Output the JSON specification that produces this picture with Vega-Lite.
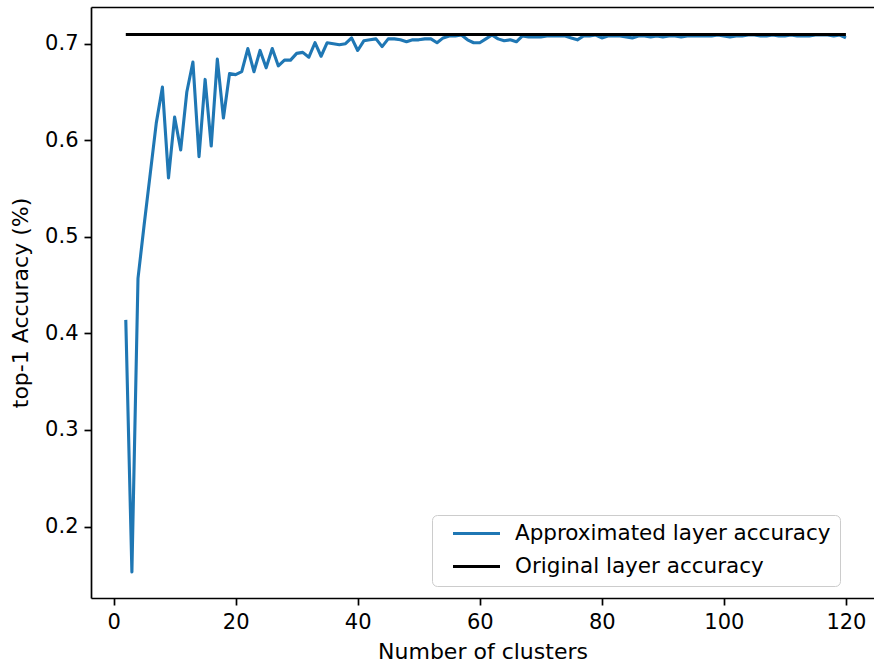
{
  "$schema": "https://vega.github.io/schema/vega-lite/v6.json",
  "width": 783,
  "height": 591,
  "autosize": {"type": "none"},
  "padding": {"left": 91, "top": 7, "right": 0, "bottom": 65},
  "config": {
    "view": {"stroke": null},
    "font": "DejaVu Sans",
    "axis": {
      "domainColor": "#000000",
      "domainWidth": 1.7,
      "tickColor": "#000000",
      "tickWidth": 1.7,
      "tickSize": 7,
      "labelColor": "#000000",
      "labelFontSize": 21,
      "labelPadding": 6,
      "titleColor": "#000000",
      "titleFontSize": 22,
      "titleFontWeight": "normal",
      "grid": false
    }
  },
  "datasets": {
    "approx": [
      {"k": 2, "acc": 0.414, "series": "Approximated layer accuracy"},
      {"k": 3, "acc": 0.153, "series": "Approximated layer accuracy"},
      {"k": 4, "acc": 0.457, "series": "Approximated layer accuracy"},
      {"k": 5, "acc": 0.512, "series": "Approximated layer accuracy"},
      {"k": 6, "acc": 0.565, "series": "Approximated layer accuracy"},
      {"k": 7, "acc": 0.618, "series": "Approximated layer accuracy"},
      {"k": 8, "acc": 0.655, "series": "Approximated layer accuracy"},
      {"k": 9, "acc": 0.561, "series": "Approximated layer accuracy"},
      {"k": 10, "acc": 0.624, "series": "Approximated layer accuracy"},
      {"k": 11, "acc": 0.590, "series": "Approximated layer accuracy"},
      {"k": 12, "acc": 0.650, "series": "Approximated layer accuracy"},
      {"k": 13, "acc": 0.681, "series": "Approximated layer accuracy"},
      {"k": 14, "acc": 0.583, "series": "Approximated layer accuracy"},
      {"k": 15, "acc": 0.663, "series": "Approximated layer accuracy"},
      {"k": 16, "acc": 0.594, "series": "Approximated layer accuracy"},
      {"k": 17, "acc": 0.684, "series": "Approximated layer accuracy"},
      {"k": 18, "acc": 0.623, "series": "Approximated layer accuracy"},
      {"k": 19, "acc": 0.669, "series": "Approximated layer accuracy"},
      {"k": 20, "acc": 0.668, "series": "Approximated layer accuracy"},
      {"k": 21, "acc": 0.671, "series": "Approximated layer accuracy"},
      {"k": 22, "acc": 0.695, "series": "Approximated layer accuracy"},
      {"k": 23, "acc": 0.671, "series": "Approximated layer accuracy"},
      {"k": 24, "acc": 0.693, "series": "Approximated layer accuracy"},
      {"k": 25, "acc": 0.675, "series": "Approximated layer accuracy"},
      {"k": 26, "acc": 0.695, "series": "Approximated layer accuracy"},
      {"k": 27, "acc": 0.677, "series": "Approximated layer accuracy"},
      {"k": 28, "acc": 0.683, "series": "Approximated layer accuracy"},
      {"k": 29, "acc": 0.683, "series": "Approximated layer accuracy"},
      {"k": 30, "acc": 0.690, "series": "Approximated layer accuracy"},
      {"k": 31, "acc": 0.691, "series": "Approximated layer accuracy"},
      {"k": 32, "acc": 0.686, "series": "Approximated layer accuracy"},
      {"k": 33, "acc": 0.701, "series": "Approximated layer accuracy"},
      {"k": 34, "acc": 0.687, "series": "Approximated layer accuracy"},
      {"k": 35, "acc": 0.701, "series": "Approximated layer accuracy"},
      {"k": 36, "acc": 0.700, "series": "Approximated layer accuracy"},
      {"k": 37, "acc": 0.699, "series": "Approximated layer accuracy"},
      {"k": 38, "acc": 0.700, "series": "Approximated layer accuracy"},
      {"k": 39, "acc": 0.706, "series": "Approximated layer accuracy"},
      {"k": 40, "acc": 0.693, "series": "Approximated layer accuracy"},
      {"k": 41, "acc": 0.703, "series": "Approximated layer accuracy"},
      {"k": 42, "acc": 0.704, "series": "Approximated layer accuracy"},
      {"k": 43, "acc": 0.705, "series": "Approximated layer accuracy"},
      {"k": 44, "acc": 0.697, "series": "Approximated layer accuracy"},
      {"k": 45, "acc": 0.705, "series": "Approximated layer accuracy"},
      {"k": 46, "acc": 0.705, "series": "Approximated layer accuracy"},
      {"k": 47, "acc": 0.704, "series": "Approximated layer accuracy"},
      {"k": 48, "acc": 0.702, "series": "Approximated layer accuracy"},
      {"k": 49, "acc": 0.704, "series": "Approximated layer accuracy"},
      {"k": 50, "acc": 0.704, "series": "Approximated layer accuracy"},
      {"k": 51, "acc": 0.705, "series": "Approximated layer accuracy"},
      {"k": 52, "acc": 0.705, "series": "Approximated layer accuracy"},
      {"k": 53, "acc": 0.701, "series": "Approximated layer accuracy"},
      {"k": 54, "acc": 0.706, "series": "Approximated layer accuracy"},
      {"k": 55, "acc": 0.708, "series": "Approximated layer accuracy"},
      {"k": 56, "acc": 0.708, "series": "Approximated layer accuracy"},
      {"k": 57, "acc": 0.709, "series": "Approximated layer accuracy"},
      {"k": 58, "acc": 0.704, "series": "Approximated layer accuracy"},
      {"k": 59, "acc": 0.701, "series": "Approximated layer accuracy"},
      {"k": 60, "acc": 0.701, "series": "Approximated layer accuracy"},
      {"k": 61, "acc": 0.705, "series": "Approximated layer accuracy"},
      {"k": 62, "acc": 0.709, "series": "Approximated layer accuracy"},
      {"k": 63, "acc": 0.705, "series": "Approximated layer accuracy"},
      {"k": 64, "acc": 0.703, "series": "Approximated layer accuracy"},
      {"k": 65, "acc": 0.704, "series": "Approximated layer accuracy"},
      {"k": 66, "acc": 0.702, "series": "Approximated layer accuracy"},
      {"k": 67, "acc": 0.708, "series": "Approximated layer accuracy"},
      {"k": 68, "acc": 0.707, "series": "Approximated layer accuracy"},
      {"k": 69, "acc": 0.707, "series": "Approximated layer accuracy"},
      {"k": 70, "acc": 0.707, "series": "Approximated layer accuracy"},
      {"k": 71, "acc": 0.708, "series": "Approximated layer accuracy"},
      {"k": 72, "acc": 0.708, "series": "Approximated layer accuracy"},
      {"k": 73, "acc": 0.708, "series": "Approximated layer accuracy"},
      {"k": 74, "acc": 0.708, "series": "Approximated layer accuracy"},
      {"k": 75, "acc": 0.706, "series": "Approximated layer accuracy"},
      {"k": 76, "acc": 0.704, "series": "Approximated layer accuracy"},
      {"k": 77, "acc": 0.708, "series": "Approximated layer accuracy"},
      {"k": 78, "acc": 0.708, "series": "Approximated layer accuracy"},
      {"k": 79, "acc": 0.709, "series": "Approximated layer accuracy"},
      {"k": 80, "acc": 0.706, "series": "Approximated layer accuracy"},
      {"k": 81, "acc": 0.708, "series": "Approximated layer accuracy"},
      {"k": 82, "acc": 0.708, "series": "Approximated layer accuracy"},
      {"k": 83, "acc": 0.708, "series": "Approximated layer accuracy"},
      {"k": 84, "acc": 0.707, "series": "Approximated layer accuracy"},
      {"k": 85, "acc": 0.706, "series": "Approximated layer accuracy"},
      {"k": 86, "acc": 0.708, "series": "Approximated layer accuracy"},
      {"k": 87, "acc": 0.708, "series": "Approximated layer accuracy"},
      {"k": 88, "acc": 0.707, "series": "Approximated layer accuracy"},
      {"k": 89, "acc": 0.708, "series": "Approximated layer accuracy"},
      {"k": 90, "acc": 0.707, "series": "Approximated layer accuracy"},
      {"k": 91, "acc": 0.708, "series": "Approximated layer accuracy"},
      {"k": 92, "acc": 0.708, "series": "Approximated layer accuracy"},
      {"k": 93, "acc": 0.707, "series": "Approximated layer accuracy"},
      {"k": 94, "acc": 0.708, "series": "Approximated layer accuracy"},
      {"k": 95, "acc": 0.708, "series": "Approximated layer accuracy"},
      {"k": 96, "acc": 0.708, "series": "Approximated layer accuracy"},
      {"k": 97, "acc": 0.708, "series": "Approximated layer accuracy"},
      {"k": 98, "acc": 0.708, "series": "Approximated layer accuracy"},
      {"k": 99, "acc": 0.709, "series": "Approximated layer accuracy"},
      {"k": 100, "acc": 0.708, "series": "Approximated layer accuracy"},
      {"k": 101, "acc": 0.707, "series": "Approximated layer accuracy"},
      {"k": 102, "acc": 0.708, "series": "Approximated layer accuracy"},
      {"k": 103, "acc": 0.708, "series": "Approximated layer accuracy"},
      {"k": 104, "acc": 0.709, "series": "Approximated layer accuracy"},
      {"k": 105, "acc": 0.709, "series": "Approximated layer accuracy"},
      {"k": 106, "acc": 0.708, "series": "Approximated layer accuracy"},
      {"k": 107, "acc": 0.708, "series": "Approximated layer accuracy"},
      {"k": 108, "acc": 0.709, "series": "Approximated layer accuracy"},
      {"k": 109, "acc": 0.708, "series": "Approximated layer accuracy"},
      {"k": 110, "acc": 0.708, "series": "Approximated layer accuracy"},
      {"k": 111, "acc": 0.709, "series": "Approximated layer accuracy"},
      {"k": 112, "acc": 0.708, "series": "Approximated layer accuracy"},
      {"k": 113, "acc": 0.708, "series": "Approximated layer accuracy"},
      {"k": 114, "acc": 0.708, "series": "Approximated layer accuracy"},
      {"k": 115, "acc": 0.709, "series": "Approximated layer accuracy"},
      {"k": 116, "acc": 0.709, "series": "Approximated layer accuracy"},
      {"k": 117, "acc": 0.709, "series": "Approximated layer accuracy"},
      {"k": 118, "acc": 0.708, "series": "Approximated layer accuracy"},
      {"k": 119, "acc": 0.709, "series": "Approximated layer accuracy"},
      {"k": 120, "acc": 0.706, "series": "Approximated layer accuracy"}
    ],
    "orig": [
      {"k": 2, "acc": 0.7095, "series": "Original layer accuracy"},
      {"k": 120, "acc": 0.7095, "series": "Original layer accuracy"}
    ]
  },
  "layer": [
    {
      "data": {"name": "approx"},
      "mark": {"type": "line", "strokeWidth": 3.1, "strokeJoin": "round", "clip": true},
      "encoding": {
        "x": {
          "field": "k",
          "type": "quantitative",
          "scale": {"domain": [-3.7, 124.6], "nice": false, "zero": false},
          "axis": {"values": [0, 20, 40, 60, 80, 100, 120], "title": "Number of clusters", "titlePadding": 9}
        },
        "y": {
          "field": "acc",
          "type": "quantitative",
          "scale": {"domain": [0.126, 0.738], "nice": false, "zero": false},
          "axis": {"values": [0.2, 0.3, 0.4, 0.5, 0.6, 0.7], "format": ".1f", "title": "top-1 Accuracy (%)", "titlePadding": 12}
        },
        "color": {
          "field": "series",
          "type": "nominal",
          "scale": {
            "domain": ["Approximated layer accuracy", "Original layer accuracy"],
            "range": ["#1f77b4", "#000000"]
          },
          "legend": {
            "title": null,
            "orient": "none",
            "legendX": 341,
            "legendY": 508,
            "symbolType": "stroke",
            "symbolSize": 2209,
            "symbolStrokeWidth": 3.1,
            "clipHeight": 19,
            "rowPadding": 11,
            "labelFontSize": 21.5,
            "labelLimit": 500,
            "labelColor": "#000000",
            "labelOffset": 13,
            "symbolOffset": 10,
            "padding": 9,
            "strokeColor": "#cccccc",
            "fillColor": "#ffffff",
            "cornerRadius": 5
          }
        }
      }
    },
    {
      "data": {"name": "orig"},
      "mark": {"type": "line", "strokeWidth": 3.1, "clip": true},
      "encoding": {
        "x": {
          "field": "k",
          "type": "quantitative",
          "axis": {"orient": "top", "labels": false, "ticks": false, "title": null, "domain": true}
        },
        "y": {"field": "acc", "type": "quantitative"},
        "color": {"field": "series", "type": "nominal"}
      }
    }
  ],
  "resolve": {"axis": {"x": "independent"}}
}
